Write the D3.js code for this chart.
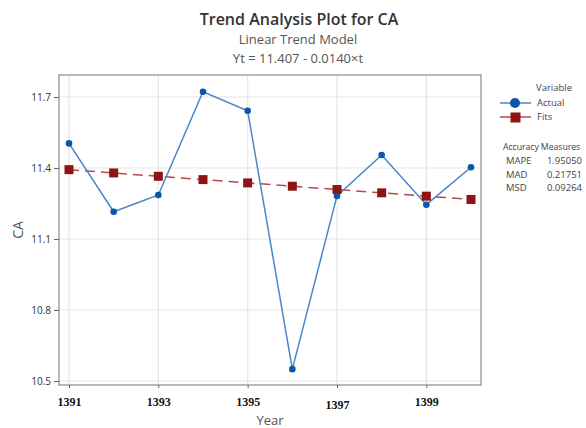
<!DOCTYPE html>
<html>
<head>
<meta charset="utf-8">
<script src="https://cdn.jsdelivr.net/npm/d3@7"></script>
<style>
  body { margin: 0; background: #fff; }
  svg { font-family: "Open Sans", "Noto Sans", sans-serif; }
</style>
</head>
<body>
<div class="chart"></div>
<script>
// data
var years = [1391, 1392, 1393, 1394, 1395, 1396, 1397, 1398, 1399, 1400];
var actual = [11.504, 11.215, 11.286, 11.722, 11.642, 10.55, 11.282, 11.455, 11.245, 11.403];
var fits = [11.393, 11.379, 11.365, 11.351, 11.337, 11.323, 11.309, 11.295, 11.281, 11.267];
var xTicks = [1391, 1393, 1395, 1397, 1399];
var yTicks = [10.5, 10.8, 11.1, 11.4, 11.7];
var measureNames = ["MAPE", "MAD", "MSD"];
var measureValues = ["1.95050", "0.21751", "0.09264"];

var svgWidth = 586;
var svgHeight = 428;

// plot frame
var frame = { left: 59, top: 75, right: 481, bottom: 385 };

var svg = d3.select(".chart")
  .append("svg")
  .attr("width", svgWidth)
  .attr("height", svgHeight);

var xScale = d3.scaleLinear()
  .domain([1391, 1400])
  .range([69, 471]);

var yScale = d3.scaleLinear()
  .domain([10.5, 11.7])
  .range([381, 97]);

// titles
svg.append("text")
  .attr("x", 299).attr("y", 25)
  .attr("text-anchor", "middle")
  .attr("font-size", 16).attr("font-weight", 600)
  .attr("fill", "#333")
  .text("Trend Analysis Plot for CA");

svg.append("text")
  .attr("x", 298).attr("y", 44)
  .attr("text-anchor", "middle")
  .attr("font-size", 13).attr("fill", "#555")
  .text("Linear Trend Model");

svg.append("text")
  .attr("x", 298).attr("y", 63)
  .attr("text-anchor", "middle")
  .attr("font-size", 13).attr("fill", "#555")
  .text("Yt = 11.407 - 0.0140×t");

// gridlines
svg.append("g").selectAll("line")
  .data(xTicks)
  .enter().append("line")
  .attr("x1", d => xScale(d)).attr("x2", d => xScale(d))
  .attr("y1", frame.top).attr("y2", frame.bottom)
  .attr("stroke", "#e6e6e6").attr("stroke-width", 1.2);

svg.append("g").selectAll("line")
  .data(yTicks)
  .enter().append("line")
  .attr("x1", frame.left).attr("x2", frame.right)
  .attr("y1", d => yScale(d)).attr("y2", d => yScale(d))
  .attr("stroke", "#e6e6e6").attr("stroke-width", 1.2);

// frame
svg.append("rect")
  .attr("x", frame.left).attr("y", frame.top)
  .attr("width", frame.right - frame.left)
  .attr("height", frame.bottom - frame.top)
  .attr("fill", "none")
  .attr("stroke", "#8a8a8a").attr("stroke-width", 1.2);

// y axis
var leftAxis = d3.axisLeft(yScale)
  .tickValues(yTicks)
  .tickSize(5)
  .tickPadding(3)
  .tickFormat(d3.format(".1f"));

var yAxis = svg.append("g")
  .attr("transform", `translate(${frame.left}, 0)`)
  .call(leftAxis);
yAxis.select(".domain").remove();
yAxis.selectAll("line").attr("stroke", "#666");
yAxis.selectAll("text")
  .attr("font-size", 10)
  .attr("fill", "#333")
  .attr("font-family", "Open Sans, sans-serif");

// x axis ticks
var bottomAxis = d3.axisBottom(xScale)
  .tickValues(xTicks)
  .tickSize(3)
  .tickPadding(8)
  .tickFormat(d3.format("d"));

var xAxis = svg.append("g")
  .attr("transform", `translate(0, ${frame.bottom})`)
  .call(bottomAxis);
xAxis.select(".domain").remove();
xAxis.selectAll("line").attr("stroke", "#666");
xAxis.selectAll("text")
  .attr("font-size", 12)
  .attr("font-weight", "bold")
  .attr("fill", "#111")
  .attr("font-family", "Liberation Serif, Times New Roman, serif")
  .attr("dy", d => d === 1397 ? "1.05em" : "0.8em");

// axis titles
svg.append("text")
  .attr("x", 270).attr("y", 425)
  .attr("text-anchor", "middle")
  .attr("font-size", 13).attr("fill", "#555")
  .text("Year");

svg.append("text")
  .attr("transform", "rotate(-90)")
  .attr("x", -230).attr("y", 23)
  .attr("text-anchor", "middle")
  .attr("font-size", 14).attr("fill", "#555")
  .text("CA");

// fits dashed line
var fitLine = d3.line()
  .x((d, i) => xScale(years[i]))
  .y(d => yScale(d));

svg.append("path")
  .datum(fits)
  .attr("d", fitLine)
  .attr("fill", "none")
  .attr("stroke", "#b54a4a")
  .attr("stroke-width", 1.5)
  .attr("stroke-dasharray", "10,6");

// actual line
svg.append("path")
  .datum(actual)
  .attr("d", fitLine)
  .attr("fill", "none")
  .attr("stroke", "#4a86c8")
  .attr("stroke-width", 1.5);

// fit squares
svg.append("g").selectAll("rect")
  .data(fits)
  .enter().append("rect")
  .attr("x", (d, i) => xScale(years[i]) - 4.5)
  .attr("y", d => yScale(d) - 4.5)
  .attr("width", 9).attr("height", 9)
  .attr("fill", "#8e1414");

// actual circles
svg.append("g").selectAll("circle")
  .data(actual)
  .enter().append("circle")
  .attr("cx", (d, i) => xScale(years[i]))
  .attr("cy", d => yScale(d))
  .attr("r", 3.3)
  .attr("fill", "#0b56a8");

// legend
var legend = svg.append("g").attr("font-size", 9.5).attr("fill", "#444");

legend.append("text").attr("x", 536).attr("y", 91).text("Variable");

legend.append("line")
  .attr("x1", 500).attr("x2", 531).attr("y1", 103).attr("y2", 103)
  .attr("stroke", "#4a86c8").attr("stroke-width", 1.5);
legend.append("circle")
  .attr("cx", 515).attr("cy", 103).attr("r", 5)
  .attr("fill", "#0b56a8");
legend.append("text").attr("x", 537).attr("y", 106).text("Actual");

legend.append("line")
  .attr("x1", 500).attr("x2", 531).attr("y1", 117).attr("y2", 117)
  .attr("stroke", "#b54a4a").attr("stroke-width", 1.5);
legend.append("rect")
  .attr("x", 510.5).attr("y", 112.5).attr("width", 10).attr("height", 10)
  .attr("fill", "#8e1414");
legend.append("text").attr("x", 537).attr("y", 120).text("Fits");

legend.append("text")
  .attr("x", 503).attr("y", 150)
  .attr("font-size", 8.8)
  .attr("letter-spacing", -0.1)
  .text("Accuracy Measures");

legend.selectAll(".mname")
  .data(measureNames)
  .enter().append("text")
  .attr("class", "mname")
  .attr("x", 506)
  .attr("y", (d, i) => 164 + i * 13.5)
  .text(d => d);

legend.selectAll(".mval")
  .data(measureValues)
  .enter().append("text")
  .attr("class", "mval")
  .attr("x", 582)
  .attr("y", (d, i) => 164 + i * 13.5)
  .attr("text-anchor", "end")
  .text(d => d);
</script>
</body>
</html>
